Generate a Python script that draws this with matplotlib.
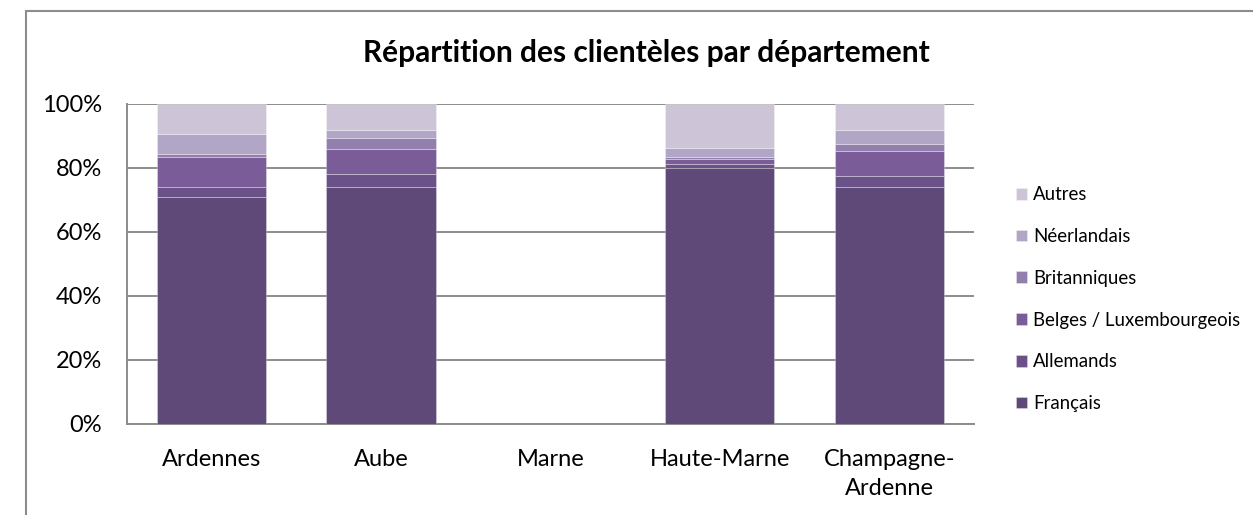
import numpy as np
import matplotlib
matplotlib.use("Agg")
import matplotlib.pyplot as plt
from matplotlib.patches import Rectangle

plt.rcParams['font.family'] = ['Lato', 'DejaVu Sans']

departements = ["Ardennes", "Aube", "Marne", "Haute-Marne", "Champagne-\nArdenne"]
series = ["Français", "Allemands", "Belges / Luxembourgeois", "Britanniques", "Néerlandais", "Autres"]

francais = [70.8, 73.9, 0, 79.8, 74.1]
allemands = [3.3, 4.0, 0, 1.2, 3.2]
belges = [9.3, 8.0, 0, 1.7, 8.0]
britanniques = [0.9, 3.4, 0, 0.6, 2.1]
neerlandais = [6.1, 2.4, 0, 2.9, 4.3]
autres = [9.6, 8.3, 0, 13.8, 8.3]

colors = ["#5E4978", "#6A5288", "#7A5D98", "#937FAE", "#B2A6C6", "#CDC4D8"]

fig = plt.figure(figsize=(12.53, 5.15), dpi=100)
ax = fig.add_axes([0.1011, 0.1767, 0.6762, 0.6223])

data = [francais, allemands, belges, britanniques, neerlandais, autres]
x = np.arange(len(departements))
bottom = np.zeros(len(departements))
handles = []
for vals, name, col in zip(data, series, colors):
    vals = np.array(vals, dtype=float)
    b = ax.bar(x, vals, 0.645, bottom=bottom, color=col, label=name,
               edgecolor=(1, 1, 1, 0.35), linewidth=0.6, zorder=3)
    handles.append(b)
    bottom += vals

ax.set_xlim(-0.5, len(departements) - 0.5)
ax.set_ylim(0, 100)
ax.set_yticks(np.arange(0, 101, 20))
ax.set_yticklabels([f"{v}%" for v in range(0, 101, 20)])
ax.set_xticks(x)
ax.set_xticklabels(departements, linespacing=1.5)
ax.tick_params(axis='y', length=0, pad=18, labelsize=17, colors='black')
ax.tick_params(axis='x', length=0, pad=18, labelsize=17, colors='black')
ax.yaxis.grid(True, color='#8C8C8C', linewidth=1.4, zorder=0)
ax.set_axisbelow(True)
for s in ['top', 'right']:
    ax.spines[s].set_visible(False)
for s in ['left', 'bottom']:
    ax.spines[s].set_color('#8C8C8C')
    ax.spines[s].set_linewidth(1.4)

fig.text(0.516, 0.898, "Répartition des clientèles par département",
         ha='center', va='center', fontsize=21.5, fontweight='bold')

leg = fig.legend(handles[::-1], series[::-1], loc='center left',
                 bbox_to_anchor=(0.805, 0.419), frameon=False, fontsize=13.4,
                 handlelength=0.6, handleheight=0.6, handletextpad=0.3,
                 labelspacing=1.33, borderaxespad=0)

fig.patches.append(Rectangle((25.5 / 1253, -0.1), 1.2, 1.0777, transform=fig.transFigure,
                             fill=False, edgecolor='#8C8C8C', linewidth=1.5))

fig.savefig("out.png", dpi=100)
